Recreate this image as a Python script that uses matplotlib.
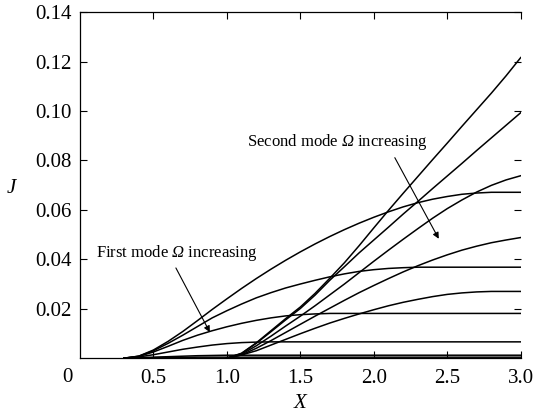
import matplotlib
matplotlib.use("Agg")
import matplotlib.pyplot as plt

plt.rcParams["font.family"] = "Liberation Serif"
# the only math in this figure is the italic Omega
plt.rcParams["mathtext.fontset"] = "custom"
plt.rcParams["mathtext.rm"] = "Liberation Serif:italic"
plt.rcParams["mathtext.it"] = "Liberation Serif:italic"

# first mode: curves start near X = 0.3 and level off
x_first = [0.3, 0.4, 0.5, 0.6, 0.7, 0.8, 0.9, 1.0, 1.1, 1.2, 1.3, 1.4, 1.5, 1.6,
           1.7, 1.8, 1.9, 2.0, 2.1, 2.2, 2.3, 2.4, 2.5, 2.6, 2.7, 2.8, 2.9, 3.0]
first_a = [0.0, 0.0008, 0.0033, 0.0068, 0.0108, 0.0152, 0.0197, 0.0240, 0.0282, 0.0322,
           0.0360, 0.0396, 0.0430, 0.0462, 0.0492, 0.0520, 0.0546, 0.0570, 0.0592, 0.0612,
           0.0629, 0.0643, 0.0654, 0.0663, 0.0668, 0.0671, 0.0671, 0.0671]
first_b = [0.0, 0.0008, 0.0030, 0.0060, 0.0093, 0.0128, 0.0163, 0.0192, 0.0219, 0.0244,
           0.0265, 0.0284, 0.0300, 0.0315, 0.0329, 0.0341, 0.0351, 0.0358, 0.0363, 0.0366,
           0.0368, 0.0368, 0.0368, 0.0368, 0.0368, 0.0368, 0.0368, 0.0368]
first_c = [0.0, 0.0007, 0.0025, 0.0048, 0.0072, 0.0093, 0.0111, 0.0127, 0.0141, 0.0153,
           0.0163, 0.0171, 0.0176, 0.0179, 0.0181, 0.0181, 0.0181, 0.0181, 0.0181, 0.0181,
           0.0181, 0.0181, 0.0181, 0.0181, 0.0181, 0.0181, 0.0181, 0.0181]
first_d = [0.0, 0.0005, 0.0014, 0.0025, 0.0036, 0.0045, 0.0053, 0.0059, 0.0063, 0.0065,
           0.0066, 0.0066, 0.0066, 0.0066, 0.0066, 0.0066, 0.0066, 0.0066, 0.0066, 0.0066,
           0.0066, 0.0066, 0.0066, 0.0066, 0.0066, 0.0066, 0.0066, 0.0066]
first_e = [0.0, 0.0002, 0.0004, 0.0006, 0.0008, 0.0010, 0.0011, 0.0012, 0.0012, 0.0012,
           0.0012, 0.0012, 0.0012, 0.0012, 0.0012, 0.0012, 0.0012, 0.0012, 0.0012, 0.0012,
           0.0012, 0.0012, 0.0012, 0.0012, 0.0012, 0.0012, 0.0012, 0.0012]
first_f = [0.0, 0.0001, 0.0002, 0.0003, 0.0003, 0.0004, 0.0004, 0.0004, 0.0004, 0.0004,
           0.0004, 0.0004, 0.0004, 0.0004, 0.0004, 0.0004, 0.0004, 0.0004, 0.0004, 0.0004,
           0.0004, 0.0004, 0.0004, 0.0004, 0.0004, 0.0004, 0.0004, 0.0004]

# second mode: curves start near X = 1.0
x_second = [1.0, 1.1, 1.2, 1.3, 1.4, 1.5, 1.6, 1.7, 1.8, 1.9, 2.0,
            2.1, 2.2, 2.3, 2.4, 2.5, 2.6, 2.7, 2.8, 2.9, 3.0]
second_a = [0.0, 0.0013, 0.0030, 0.0053, 0.0076, 0.0099, 0.0121, 0.0142, 0.0161, 0.0179, 0.0196,
            0.0212, 0.0226, 0.0238, 0.0249, 0.0258, 0.0264, 0.0268, 0.0270, 0.0270, 0.0270]
second_b = [0.0, 0.0013, 0.0040, 0.0071, 0.0104, 0.0137, 0.0170, 0.0202, 0.0234, 0.0265, 0.0294,
            0.0322, 0.0349, 0.0374, 0.0397, 0.0418, 0.0437, 0.0453, 0.0467, 0.0478, 0.0488]
second_c = [0.0, 0.0016, 0.0050, 0.0089, 0.0130, 0.0170, 0.0212, 0.0256, 0.0300, 0.0346, 0.0392,
            0.0437, 0.0481, 0.0524, 0.0566, 0.0605, 0.0640, 0.0672, 0.0699, 0.0721, 0.0738]
second_d = [0.0, 0.0019, 0.0060, 0.0107, 0.0155, 0.0201, 0.0255, 0.0315, 0.0370, 0.0426, 0.0478,
            0.0530, 0.0583, 0.0634, 0.0686, 0.0737, 0.0788, 0.0840, 0.0891, 0.0942, 0.0993]
second_e = [0.0, 0.0020, 0.0062, 0.0111, 0.0160, 0.0207, 0.0262, 0.0323, 0.0386, 0.0455, 0.0527,
            0.0598, 0.0667, 0.0735, 0.0803, 0.0870, 0.0938, 0.1005, 0.1072, 0.1142, 0.1216]

x_ticks = [0.5, 1.0, 1.5, 2.0, 2.5, 3.0]
x_ticklabels = ["0.5", "1.0", "1.5", "2.0", "2.5", "3.0"]
y_ticks = [0.02, 0.04, 0.06, 0.08, 0.10, 0.12, 0.14]
y_ticklabels = ["0.02", "0.04", "0.06", "0.08", "0.10", "0.12", "0.14"]

fig = plt.figure(figsize=(5.33, 4.16), dpi=100)
ax = fig.add_axes([0.150, 0.139, 0.827, 0.832])

for ys in [first_a, first_b, first_c, first_d, first_e, first_f]:
    ax.plot(x_first, ys, color="black", lw=1.1, solid_joinstyle="round")
for ys in [second_a, second_b, second_c, second_d, second_e]:
    ax.plot(x_second, ys, color="black", lw=1.1, solid_joinstyle="round")

ax.set_xlim(0, 3.0)
ax.set_ylim(0, 0.14)
ax.set_xticks(x_ticks)
ax.set_xticklabels(x_ticklabels)
ax.set_yticks(y_ticks)
ax.set_yticklabels(y_ticklabels)
ax.tick_params(direction="in", length=5, width=0.8, labelsize=15,
               top=True, right=True, color="black")
ax.tick_params(axis="x", pad=8)
ax.tick_params(axis="y", pad=6)
ax.spines["right"].set_visible(False)
for s in ["left", "top", "bottom"]:
    ax.spines[s].set_linewidth(0.9)

# shared origin label
ax.text(-0.082, -0.0078, "0", fontsize=15, ha="center", va="center", clip_on=False)

ax.set_xlabel("X", fontsize=15, style="italic", labelpad=4)
ax.set_ylabel("J", fontsize=15, style="italic", rotation=0, va="center")
ax.yaxis.set_label_coords(-0.155, 0.49)

# mode labels with arrows pointing across the curves
ax.text(0.11, 0.0425, r"First mode $\Omega$ increasing", fontsize=12,
        ha="left", va="center")
ax.annotate("", xy=(0.884, 0.0105), xytext=(0.653, 0.0365),
            arrowprops=dict(arrowstyle="-|>", color="black", lw=0.8,
                            mutation_scale=9, shrinkA=0, shrinkB=0))
ax.text(1.14, 0.0875, r"Second mode $\Omega$ increasing", fontsize=12,
        ha="left", va="center")
ax.annotate("", xy=(2.442, 0.0483), xytext=(2.143, 0.0811),
            arrowprops=dict(arrowstyle="-|>", color="black", lw=0.8,
                            mutation_scale=9, shrinkA=0, shrinkB=0))

fig.savefig("out.png", dpi=100)
